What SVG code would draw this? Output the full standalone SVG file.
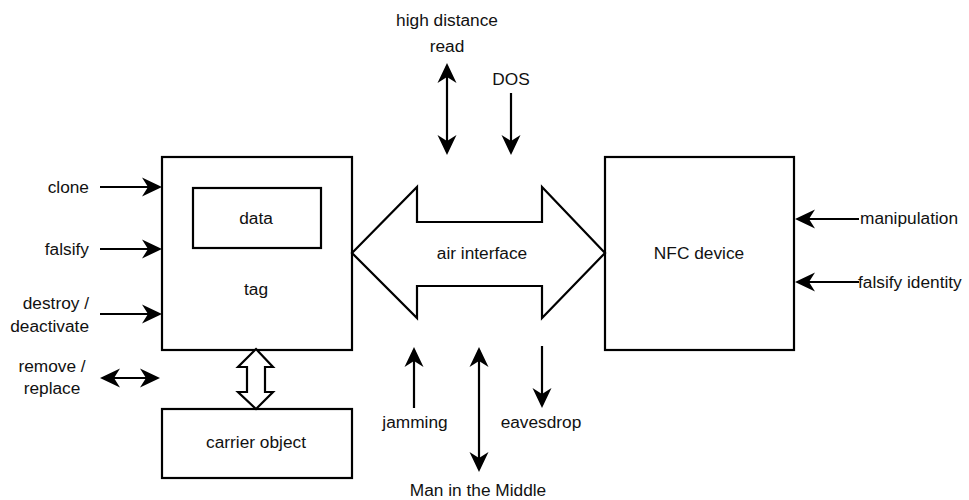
<svg xmlns="http://www.w3.org/2000/svg" width="969" height="500" viewBox="0 0 969 500">
<style>
.box{fill:#fff;stroke:#000;stroke-width:2.2}
.t{font-family:"Liberation Sans",Arial,Helvetica,sans-serif;font-size:17.3px;fill:#111}
.m{text-anchor:middle}
.e{text-anchor:end}
.s{text-anchor:start}
.ln{stroke:#000;stroke-width:2.2;fill:none}
</style>
<defs>
<marker id="ah" viewBox="-19 -10 23 20" refX="0" refY="0" markerWidth="23" markerHeight="20" markerUnits="userSpaceOnUse" orient="auto-start-reverse">
<path d="M3,0 L-17,-9.5 L-11,0 L-17,9.5 Z" fill="#000"/>
</marker>
</defs>
<rect width="969" height="500" fill="#fff"/>

<g id="tag">
<rect class="box" x="162" y="157" width="190" height="193"/>
<text class="t m" x="256" y="295">tag</text>
</g>
<g id="data">
<rect class="box" x="193" y="188" width="128" height="60"/>
<text class="t m" x="256" y="224">data</text>
</g>
<g id="carrier">
<rect class="box" x="162" y="409" width="190" height="69"/>
<text class="t m" x="256" y="448">carrier object</text>
</g>
<g id="nfc">
<rect class="box" x="605" y="157" width="189" height="193"/>
<text class="t m" x="699" y="259">NFC device</text>
</g>
<g id="air">
<polygon class="box" points="352,253 417,187 417,222 542,222 542,187 605,253 542,318 542,286 417,286 417,318"/>
<text class="t m" x="482" y="259">air interface</text>
</g>
<g id="tag-carrier">
<polygon class="box" points="256,349 273,367 265,367 265,392 273,392 256,409 238,392 247,392 247,367 238,367"/>
</g>

<g id="connectors">
<line class="ln" x1="100" y1="187" x2="159" y2="187" marker-end="url(#ah)"/>
<line class="ln" x1="100" y1="249" x2="159" y2="249" marker-end="url(#ah)"/>
<line class="ln" x1="100" y1="314" x2="159" y2="314" marker-end="url(#ah)"/>
<line class="ln" x1="103" y1="378" x2="157" y2="378" marker-start="url(#ah)" marker-end="url(#ah)"/>
<line class="ln" x1="859" y1="219" x2="798" y2="219" marker-end="url(#ah)"/>
<line class="ln" x1="859" y1="282" x2="798" y2="282" marker-end="url(#ah)"/>
<line class="ln" x1="447" y1="66" x2="447" y2="152" marker-start="url(#ah)" marker-end="url(#ah)"/>
<line class="ln" x1="511" y1="93" x2="511" y2="152" marker-end="url(#ah)"/>
<line class="ln" x1="414" y1="408" x2="414" y2="350" marker-end="url(#ah)"/>
<line class="ln" x1="479" y1="350" x2="479" y2="469" marker-start="url(#ah)" marker-end="url(#ah)"/>
<line class="ln" x1="542" y1="346" x2="542" y2="405" marker-end="url(#ah)"/>
</g>

<g id="labels">
<text class="t e" x="89" y="193">clone</text>
<text class="t e" x="89" y="255">falsify</text>
<text class="t e" x="89" y="309">destroy /</text>
<text class="t e" x="89" y="332">deactivate</text>
<text class="t m" x="52" y="372">remove /</text>
<text class="t m" x="52" y="394">replace</text>
<text class="t s" x="860" y="224">manipulation</text>
<text class="t s" x="858" y="288">falsify identity</text>
<text class="t m" x="447" y="26">high distance</text>
<text class="t m" x="447" y="52">read</text>
<text class="t m" x="511" y="85">DOS</text>
<text class="t m" x="415" y="428">jamming</text>
<text class="t m" x="541" y="428">eavesdrop</text>
<text class="t m" x="478" y="496">Man in the Middle</text>
</g>
</svg>
